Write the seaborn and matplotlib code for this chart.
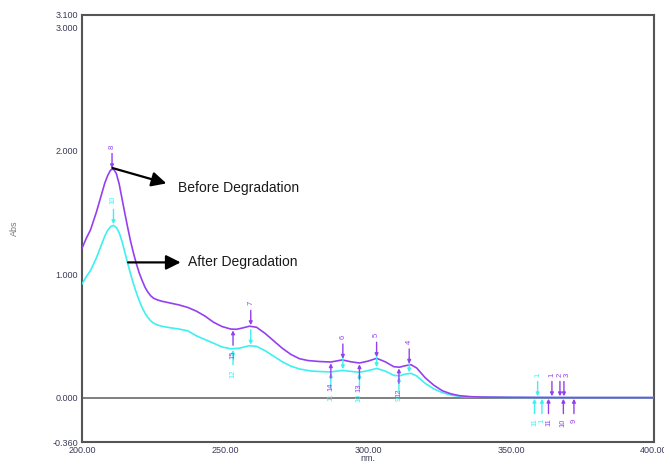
import numpy as np
import pandas as pd
import matplotlib
matplotlib.use("Agg")
import matplotlib.pyplot as plt
import seaborn as sns

# UV spectrum before degradation (wavelength nm, absorbance)
before_nm = [200, 201.5, 203, 205, 206, 207, 208, 209, 210, 211, 212, 213, 214, 215, 216,
             217, 218, 219, 220, 221, 222, 223, 224, 225, 226.5, 228, 231, 234, 237, 240,
             243, 246, 249, 252, 254, 256, 258.5, 261, 264, 267, 270, 273, 276, 279, 283,
             287, 291, 294, 297, 300, 303, 306, 309, 311, 313, 315, 317, 320, 323, 326,
             329, 332, 336, 340, 350, 360, 370, 380, 400]
before_abs = [1.21, 1.29, 1.36, 1.50, 1.58, 1.66, 1.74, 1.80, 1.843, 1.852, 1.815, 1.73,
              1.61, 1.49, 1.375, 1.265, 1.17, 1.085, 1.01, 0.95, 0.895, 0.855, 0.825, 0.805,
              0.79, 0.78, 0.765, 0.75, 0.73, 0.70, 0.66, 0.61, 0.575, 0.555, 0.553, 0.563,
              0.578, 0.57, 0.52, 0.46, 0.40, 0.35, 0.315, 0.30, 0.292, 0.288, 0.305, 0.29,
              0.28, 0.295, 0.318, 0.29, 0.25, 0.246, 0.258, 0.266, 0.24, 0.16, 0.10, 0.055,
              0.03, 0.015, 0.007, 0.004, 0.002, 0.001, 0.0, 0.0, 0.0]

# UV spectrum after degradation
after_nm = [200, 201.5, 203, 205, 206, 207, 208, 209, 210, 211, 212, 213, 214, 215, 216,
            217, 218, 219, 220, 221, 222, 223, 224, 225, 226.5, 228, 231, 234, 237, 240,
            243, 246, 249, 252, 255, 258.5, 261, 264, 267, 270, 273, 276, 280, 284, 287,
            291, 294, 297, 300, 303, 306, 309, 311, 313, 315, 317, 320, 323, 326, 329,
            332, 336, 340, 350, 360, 400]
after_abs = [0.92, 0.98, 1.03, 1.13, 1.19, 1.25, 1.31, 1.355, 1.385, 1.395, 1.378, 1.335,
             1.265, 1.175, 1.085, 1.00, 0.92, 0.85, 0.785, 0.73, 0.685, 0.65, 0.622, 0.603,
             0.587, 0.577, 0.565, 0.555, 0.54, 0.50, 0.47, 0.44, 0.41, 0.395, 0.40, 0.42,
             0.415, 0.38, 0.335, 0.29, 0.255, 0.232, 0.215, 0.21, 0.208, 0.22, 0.212, 0.205,
             0.218, 0.236, 0.215, 0.18, 0.176, 0.19, 0.196, 0.175, 0.115, 0.07, 0.04, 0.02,
             0.01, 0.005, 0.003, 0.001, 0.0, 0.0]

# peak / valley picks: (wavelength, label)
before_peaks = [(364.3, "1"), (367.1, "2"), (368.5, "3"), (314.4, "4"), (303.0, "5"),
                (291.2, "6"), (259.0, "7"), (210.5, "8")]
before_valleys = [(372.0, "9"), (368.3, "10"), (363.1, "11"), (310.8, "12"), (297.0, "13"),
                  (287.0, "14"), (252.8, "15")]
after_peaks = [(359.3, "1"), (314.4, ""), (303.0, ""), (291.2, ""), (259.0, ""), (211.0, "10")]
after_valleys = [(358.2, "11"), (360.8, "1"), (310.8, "9"), (297.0, "10"), (287.0, "11"),
                 (252.8, "12")]

yticks = [-0.36, 0.0, 1.0, 2.0, 3.0, 3.1]
ytick_labels = ["-0.360", "0.000", "1.000", "2.000", "3.000", "3.100"]
xticks = [200, 250, 300, 350, 400]
xtick_labels = ["200.00", "250.00", "300.00", "350.00", "400.00"]

PURPLE = "#9440f0"
CYAN = "#3ef0f0"
TICK_COLOR = "#3a3a5a"

sns.set_style("white")
plt.rcParams["font.family"] = ["Liberation Sans", "DejaVu Sans"]

fig = plt.figure(figsize=(6.64, 4.66), dpi=100)
ax = fig.add_axes([0.1235, 0.0515, 0.8615, 0.9165])

df_before = pd.DataFrame({"nm": before_nm, "Abs": before_abs})
df_after = pd.DataFrame({"nm": after_nm, "Abs": after_abs})

ax.axhline(0, color="#6a6a6a", lw=1.2, zorder=1)
sns.lineplot(data=df_after, x="nm", y="Abs", color=CYAN, lw=1.2, ax=ax, zorder=3)
sns.lineplot(data=df_before, x="nm", y="Abs", color=PURPLE, lw=1.2, ax=ax, zorder=4)


def mark(nm_arr, abs_arr, picks, color, upward):
    """Small pick arrows pointing at the curve, with rotated index labels."""
    last_x = None
    for wl, lab in sorted(picks):
        a = float(np.interp(wl, nm_arr, abs_arr))
        if upward:
            start, end, ty, va = a + 0.13, a + 0.01, a + 0.17, "bottom"
        else:
            start, end, ty, va = a - 0.13, a - 0.01, a - 0.17, "top"
        ax.annotate("", xy=(wl, end), xytext=(wl, start),
                    arrowprops=dict(arrowstyle="-|>", color=color, lw=1.0,
                                    mutation_scale=5, shrinkA=0, shrinkB=0),
                    zorder=5)
        if lab:
            tx = wl
            # keep crowded labels from sitting on top of each other
            if last_x is not None and tx - last_x < 2.6:
                tx = last_x + 2.6
            last_x = tx
            ax.text(tx, ty, lab, rotation=90, color=color, fontsize=5.5,
                    ha="center", va=va, zorder=5)


mark(after_nm, after_abs, after_peaks, CYAN, True)
mark(after_nm, after_abs, after_valleys, CYAN, False)
mark(before_nm, before_abs, before_peaks, PURPLE, True)
mark(before_nm, before_abs, before_valleys, PURPLE, False)

# callouts
ax.annotate("", xy=(229.5, 1.735), xytext=(210.6, 1.86),
            arrowprops=dict(arrowstyle="-|>", color="black", lw=1.6,
                            mutation_scale=22, shrinkA=0, shrinkB=0), zorder=6)
ax.text(233.6, 1.70, "Before Degradation", fontsize=10, color="#1a1a1a",
        va="center", ha="left")
ax.annotate("", xy=(234.5, 1.095), xytext=(216.1, 1.095),
            arrowprops=dict(arrowstyle="-|>", color="black", lw=1.6,
                            mutation_scale=22, shrinkA=0, shrinkB=0), zorder=6)
ax.text(237.2, 1.095, "After Degradation", fontsize=10, color="#1a1a1a",
        va="center", ha="left")

ax.set_xlim(200, 400)
ax.set_ylim(-0.36, 3.1)
ax.set_yticks(yticks)
ax.set_yticklabels(ytick_labels)
ax.set_xticks(xticks)
ax.set_xticklabels(xtick_labels)
ax.tick_params(axis="both", direction="in", length=4, width=1.2, color="#444444",
               labelsize=6.5, labelcolor=TICK_COLOR, pad=3)
ax.set_xlabel("nm.", fontsize=6.5, color=TICK_COLOR, labelpad=-1)
ax.set_ylabel("Abs", fontsize=6.5, color="#777777", labelpad=24)

for s in ax.spines.values():
    s.set_color("#555555")
    s.set_linewidth(1.5)
    s.set_visible(True)

fig.savefig("out.png", dpi=100)
